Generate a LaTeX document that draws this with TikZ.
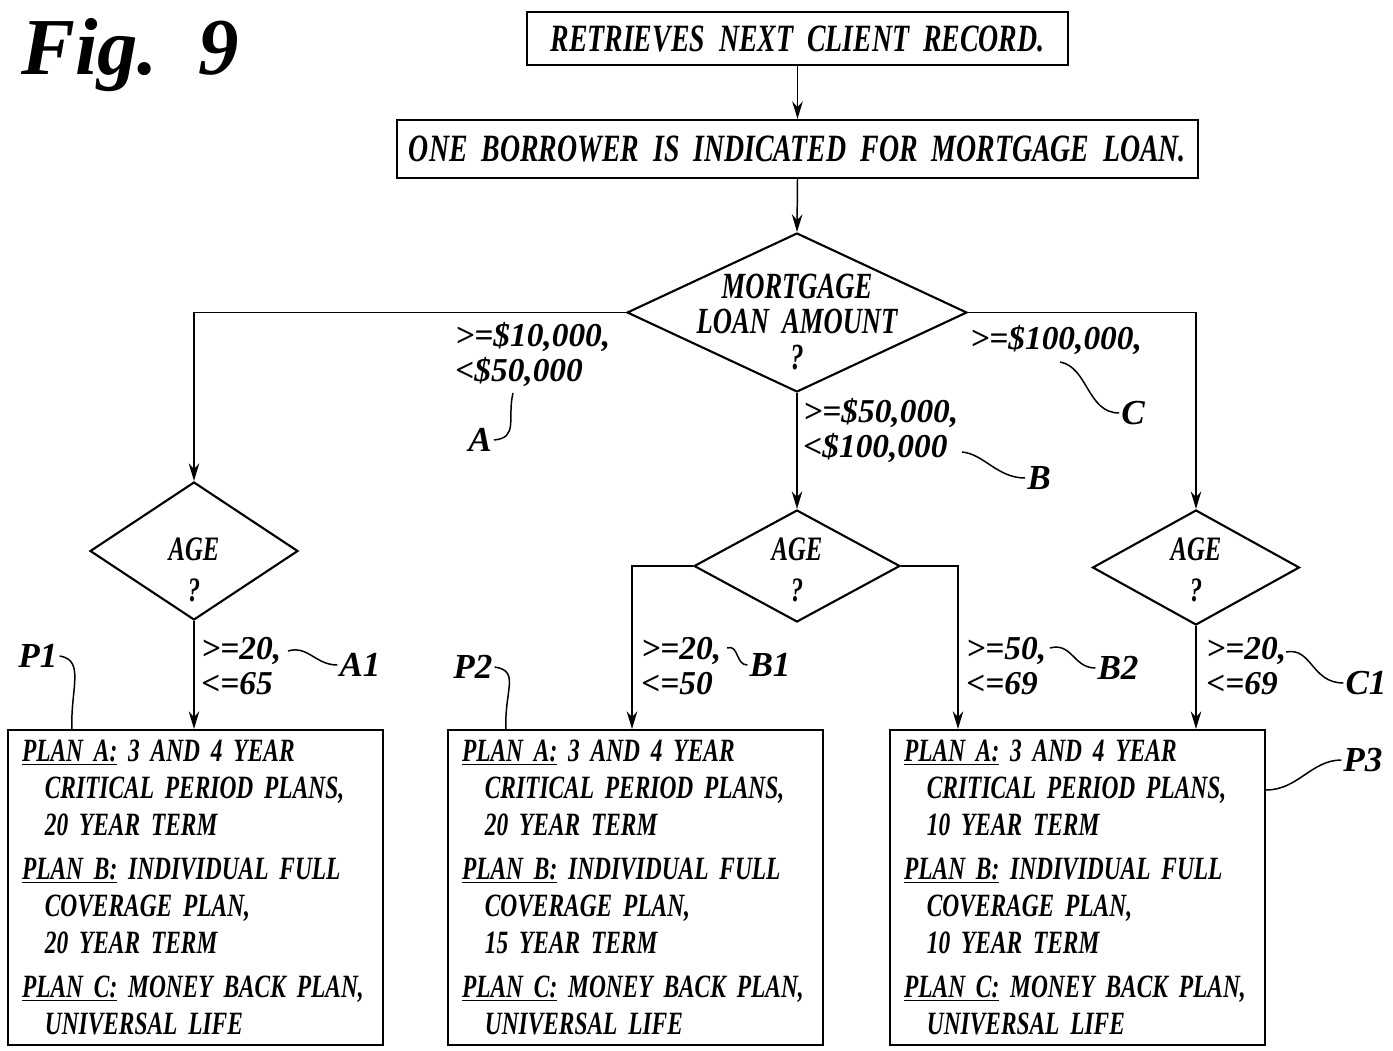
\documentclass[tikz,border=0pt]{standalone}
\usepackage{fontspec}
\setmainfont{Liberation Serif}
\newfontfamily\narrow{Liberation Serif}[FakeStretch=0.72]
\usetikzlibrary{shapes.geometric,arrows.meta}

\newcommand\plantext[2]{%
  \underline{PLAN A:} 3 AND 4 YEAR\\
  \hspace*{13pt}CRITICAL PERIOD PLANS,\\
  \hspace*{13pt}#1 YEAR TERM\\[4pt]
  \underline{PLAN B:} INDIVIDUAL FULL\\
  \hspace*{13pt}COVERAGE PLAN,\\
  \hspace*{13pt}#2 YEAR TERM\\[4pt]
  \underline{PLAN C:} MONEY BACK PLAN,\\
  \hspace*{13pt}UNIVERSAL LIFE}

\tikzset{
  stepbox/.style={draw,line width=1.2pt,inner sep=0pt,
    font=\narrow\bfseries\itshape\fontsize{22}{26}\selectfont},
  planbox/.style={draw,line width=1.2pt,minimum width=7.5cm,minimum height=6.3cm,
    inner xsep=0.28cm,text width=6.94cm,align=left,
    font=\narrow\bfseries\itshape\fontsize{18.5}{21}\selectfont},
  decision/.style={diamond,draw,line width=1.2pt,inner sep=0pt},
  dtext/.style={align=center,inner sep=0pt,font=\narrow\bfseries\itshape\fontsize{21}{20}\selectfont},
  cond/.style={align=left,inner sep=0pt,anchor=north west,
    font=\bfseries\itshape\fontsize{19}{20}\selectfont},
  ref/.style={inner sep=1pt,font=\bfseries\itshape\fontsize{20}{24}\selectfont},
  flow/.style={line width=0.85pt,-{Stealth[length=10pt,width=6pt]}},
  lead/.style={line width=0.85pt},
}

\begin{document}
\begin{tikzpicture}[x=0.02cm,y=-0.02cm]
  \useasboundingbox (0,0) rectangle (1393,1051);

  \node[font=\bfseries\itshape\fontsize{46}{46}\selectfont] (fig) at (130,55) {Fig.\,\,\,9};

  % main chain
  \node[stepbox,minimum width=10.82cm,minimum height=1.06cm] (rec) at (797.5,38.5) {RETRIEVES\ \ NEXT\ \ CLIENT\ \ RECORD.};
  \node[stepbox,minimum width=16.02cm,minimum height=1.16cm] (one) at (797.5,149) {ONE\ \ BORROWER\ \ IS\ \ INDICATED\ \ FOR\ \ MORTGAGE\ \ LOAN.};
  \node[decision,minimum width=6.8cm,minimum height=3.18cm] (amt) at (797,312.5) {};
  \node[dtext] (amtq) at (797,322) {MORTGAGE\\LOAN\ \ AMOUNT\\?};

  % age checks
  \node[decision,minimum width=4.16cm,minimum height=2.76cm] (age1) at (194,551) {};
  \node[decision,minimum width=4.12cm,minimum height=2.24cm] (age2) at (797,566) {};
  \node[decision,minimum width=4.14cm,minimum height=2.3cm] (age3) at (1196,567.5) {};
  \foreach \n/\x in {1/194,2/797,3/1196}
    \node[dtext,font=\narrow\bfseries\itshape\fontsize{19.5}{21}\selectfont] (ageq\n) at (\x,570) {AGE\\[2pt]?};

  % plan boxes
  \foreach \n/\x/\ta/\tb in {1/195.5/20/20,2/635.5/20/15,3/1077.5/10/10}
    \node[planbox] (p\n) at (\x,887.5) {\plantext{\ta}{\tb}};

  \coordinate (b1) at (632,566);
  \coordinate (b2) at (958,566);

  \draw[flow] (rec.south) -- (one.north);
  \draw[flow] (one.south) -- (amt.north);
  \draw[flow] (amt.west) -| (age1.north);
  \draw[flow] (amt.east) -| (age3.north);
  \draw[flow] (amt.south) -- (age2.north);
  \draw[flow] (age1.south) -- (age1.south |- p1.north);
  \draw[flow] (age2.west) -- (b1) -- (b1 |- p2.north);
  \draw[flow] (age2.east) -- (b2) -- (b2 |- p3.north);
  \draw[flow] (age3.south) -- (age3.south |- p3.north);

  % branch conditions
  \node[cond] (cA) at (455,322) {>=\$10,000,\\<\$50,000};
  \node[cond] (cB) at (803,398) {>=\$50,000,\\<\$100,000};
  \node[cond] (cC) at (970,325) {>=\$100,000,};
  \node[cond] (cA1) at (201,637) {>=20,\\<=65};
  \node[cond] (cB1) at (641,637) {>=20,\\<=50};
  \node[cond] (cB2) at (966,637) {>=50,\\<=69};
  \node[cond] (cC1) at (1206,637) {>=20,\\<=69};

  % reference letters
  \node[ref] (A) at (480,440) {A};
  \node[ref] (B) at (1039,478) {B};
  \node[ref] (C) at (1133,413) {C};
  \node[ref] (A1) at (360,665) {A1};
  \node[ref] (B1) at (770,665) {B1};
  \node[ref] (B2) at (1118,668) {B2};
  \node[ref] (C1) at (1366,683) {C1};
  \node[ref] (P1) at (38,656) {P1};
  \node[ref] (P2) at (473,667) {P2};
  \node[ref] (P3) at (1363,760) {P3};

  \coordinate (sA) at (513,393);
  \coordinate (sB) at (962,452);
  \coordinate (sC) at (1060,362);
  \coordinate (sA1) at (288,651);
  \coordinate (sB1) at (727,648);
  \coordinate (sB2) at (1050,648);
  \coordinate (sC1) at (1286,652);
  \coordinate (tP1) at (72,730);
  \coordinate (tP2) at (506,730);
  \coordinate (tP3) at (1266,790);

  \draw[lead] (sA) .. controls +(-6,25) and +(25,-2) .. (A.east);
  \draw[lead] (sB) .. controls +(22,2) and +(-28,0) .. (B.west);
  \draw[lead] (sC) .. controls +(28,5) and +(-32,0) .. (C.west);
  \draw[lead] (sA1) .. controls +(20,-6) and +(-22,0) .. (A1.west);
  \draw[lead] (sB1) .. controls +(12,-4) and +(-12,0) .. (B1.west);
  \draw[lead] (sB2) .. controls +(22,-6) and +(-22,0) .. (B2.west);
  \draw[lead] (sC1) .. controls +(26,-5) and +(-32,0) .. (C1.west);
  \draw[lead] (P1.east) .. controls +(26,4) and +(-2,-40) .. (tP1);
  \draw[lead] (P2.east) .. controls +(26,4) and +(-2,-40) .. (tP2);
  \draw[lead] (P3.west) .. controls +(-30,0) and +(32,0) .. (tP3);
\end{tikzpicture}
\end{document}
